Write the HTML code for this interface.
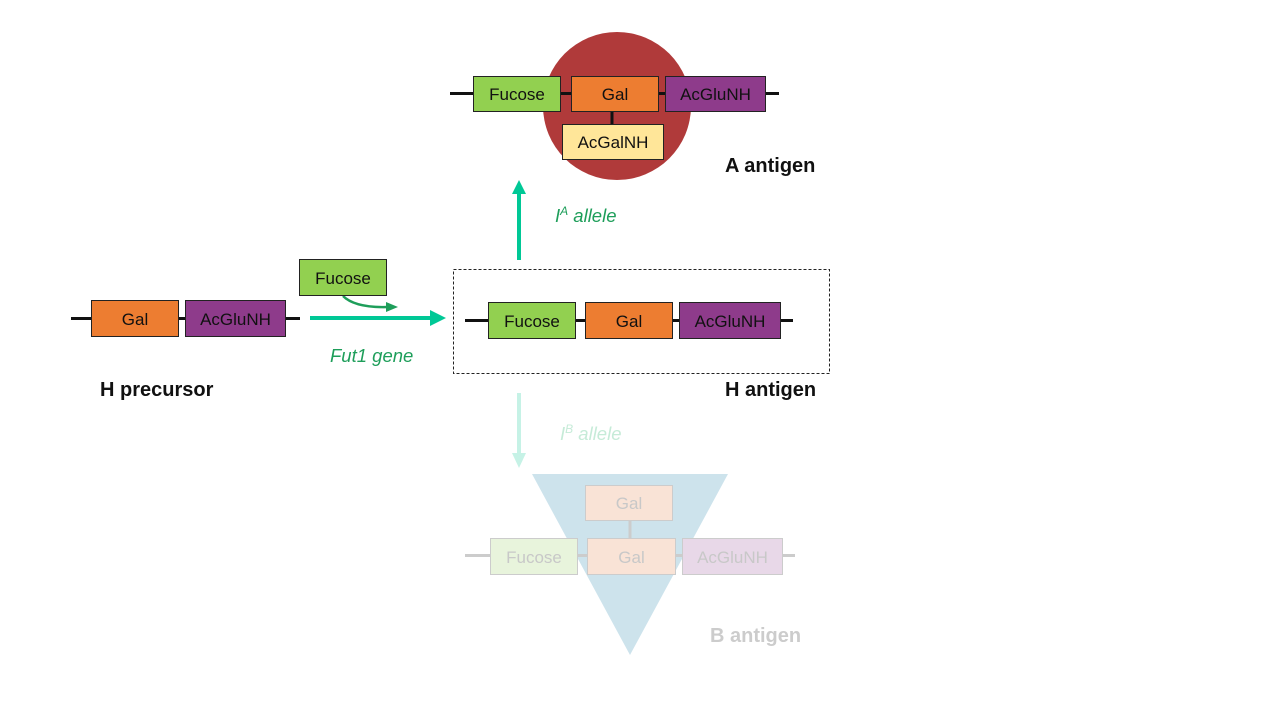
<!DOCTYPE html>
<html><head><style>
body{margin:0;width:1280px;height:720px;background:#fff;position:relative;overflow:hidden;font-family:"Liberation Sans",sans-serif}
.b{position:absolute;box-sizing:border-box;border:1px solid #222;display:flex;align-items:center;justify-content:center;font-size:17px;color:#111;padding-top:2px}
.t{position:absolute;font-size:20px;font-weight:bold;color:#111;white-space:nowrap}
.i{position:absolute;font-size:18.5px;font-style:italic;color:#1e9e5a;white-space:nowrap}
.l{position:absolute;height:3px;background:#111}
.g{background:#92d050}.o{background:#ed7d31}.p{background:#8e3b8b}.y{background:#ffe699}
.f{border-color:#ccc;color:#c8c8c8}
</style></head><body>
<svg width="1280" height="720" style="position:absolute;left:0;top:0">
<circle cx="617" cy="106" r="74" fill="#b03a3a"/>
<polygon points="532,474 728,474 630,655" fill="#cde3ec"/>
<line x1="310" y1="318" x2="432" y2="318" stroke="#00c896" stroke-width="4"/>
<polygon points="430,310 446,318 430,326" fill="#00c896"/>
<path d="M343,296 Q355,308 388,307" stroke="#1e9e5a" stroke-width="2.5" fill="none"/>
<polygon points="386,302 398,307 386,312" fill="#1e9e5a"/>
<line x1="519" y1="260" x2="519" y2="192" stroke="#00c896" stroke-width="4"/>
<polygon points="512,194 519,180 526,194" fill="#00c896"/>
<line x1="519" y1="393" x2="519" y2="455" stroke="#c6f2e6" stroke-width="4"/>
<polygon points="512,453 519,468 526,453" fill="#c6f2e6"/>
<rect x="453.5" y="269.5" width="376" height="104" fill="none" stroke="#222" stroke-dasharray="3,2"/>
<line x1="612" y1="111" x2="612" y2="124" stroke="#111" stroke-width="3"/>
<line x1="630" y1="520" x2="630" y2="538" stroke="#ccc" stroke-width="3"/>
</svg>
<div class="l" style="left:71px;top:317px;width:229px"></div>
<div class="b o" style="left:91px;top:300px;width:88px;height:37px">Gal</div>
<div class="b p" style="left:185px;top:300px;width:101px;height:37px">AcGluNH</div>
<div class="b g" style="left:299px;top:259px;width:88px;height:37px">Fucose</div>
<div class="i" style="left:330px;top:345px">Fut1 gene</div>
<div class="t" style="left:100px;top:379px">H precursor</div>

<div class="l" style="left:465px;top:319px;width:328px"></div>
<div class="b g" style="left:488px;top:302px;width:88px;height:37px">Fucose</div>
<div class="b o" style="left:585px;top:302px;width:88px;height:37px">Gal</div>
<div class="b p" style="left:679px;top:302px;width:102px;height:37px">AcGluNH</div>
<div class="t" style="left:725px;top:379px">H antigen</div>

<div class="l" style="left:450px;top:92px;width:329px"></div>
<div class="b g" style="left:473px;top:76px;width:88px;height:36px">Fucose</div>
<div class="b o" style="left:571px;top:76px;width:88px;height:36px">Gal</div>
<div class="b p" style="left:665px;top:76px;width:101px;height:36px">AcGluNH</div>
<div class="b y" style="left:562px;top:124px;width:102px;height:36px">AcGalNH</div>
<div class="t" style="left:725px;top:155px">A antigen</div>
<div class="i" style="left:555px;top:204px">I<sup style="font-size:12px">A</sup> allele</div>

<div class="i" style="left:560px;top:422px;color:#c6ebd8">I<sup style="font-size:12px">B</sup> allele</div>
<div class="l" style="left:465px;top:554px;width:330px;background:#ccc"></div>
<div class="b f" style="left:585px;top:485px;width:88px;height:36px;background:#f9e3d6">Gal</div>
<div class="b f" style="left:490px;top:538px;width:88px;height:37px;background:#e8f4dc">Fucose</div>
<div class="b f" style="left:587px;top:538px;width:89px;height:37px;background:#f9e3d6">Gal</div>
<div class="b f" style="left:682px;top:538px;width:101px;height:37px;background:#e8d8e8">AcGluNH</div>
<div class="t" style="left:710px;top:625px;color:#ccc">B antigen</div>
</body></html>
